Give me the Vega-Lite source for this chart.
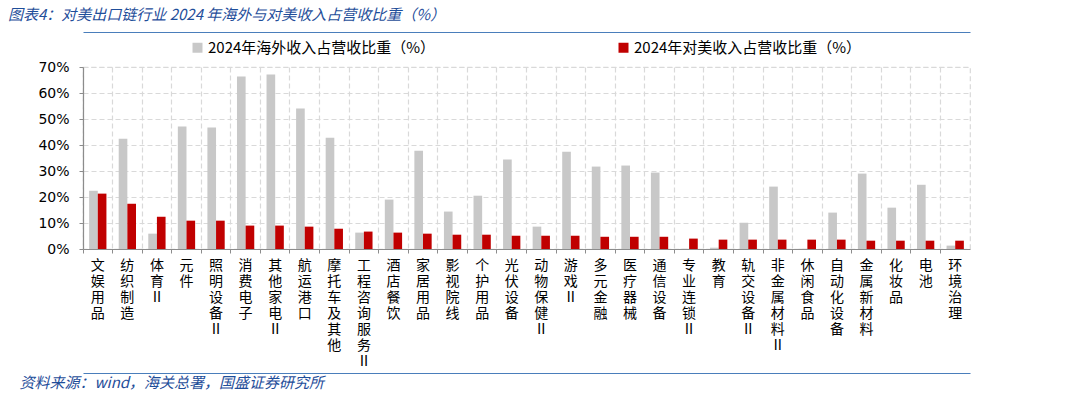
{
  "$schema": "https://vega.github.io/schema/vega-lite/v6.json",
  "autosize": "none",
  "width": 887,
  "height": 182,
  "padding": {"left": 83, "top": 67, "right": 95, "bottom": 147},
  "background": "white",
  "view": {"stroke": "#D9D9D9", "strokeDash": [5, 3], "strokeWidth": 1.2},
  "title": {
    "text": "图表4：对美出口链行业 2024 年海外与对美收入占营收比重（%）",
    "anchor": "start",
    "frame": "group",
    "dx": -75,
    "offset": 9,
    "font": "Noto Sans CJK SC",
    "fontSize": 15,
    "fontStyle": "italic",
    "fontWeight": "normal",
    "color": "#1F4E9A"
  },
  "data": {
    "values": [
      {"行业": "文娱用品", "系列": "2024年海外收入占营收比重（%）", "值": 22.4},
      {"行业": "文娱用品", "系列": "2024年对美收入占营收比重（%）", "值": 21.3},
      {"行业": "纺织制造", "系列": "2024年海外收入占营收比重（%）", "值": 42.4},
      {"行业": "纺织制造", "系列": "2024年对美收入占营收比重（%）", "值": 17.4},
      {"行业": "体育Ⅱ", "系列": "2024年海外收入占营收比重（%）", "值": 5.9},
      {"行业": "体育Ⅱ", "系列": "2024年对美收入占营收比重（%）", "值": 12.4},
      {"行业": "元件", "系列": "2024年海外收入占营收比重（%）", "值": 47.1},
      {"行业": "元件", "系列": "2024年对美收入占营收比重（%）", "值": 10.9},
      {"行业": "照明设备Ⅱ", "系列": "2024年海外收入占营收比重（%）", "值": 46.7},
      {"行业": "照明设备Ⅱ", "系列": "2024年对美收入占营收比重（%）", "值": 10.9},
      {"行业": "消费电子", "系列": "2024年海外收入占营收比重（%）", "值": 66.3},
      {"行业": "消费电子", "系列": "2024年对美收入占营收比重（%）", "值": 9.0},
      {"行业": "其他家电Ⅱ", "系列": "2024年海外收入占营收比重（%）", "值": 67.1},
      {"行业": "其他家电Ⅱ", "系列": "2024年对美收入占营收比重（%）", "值": 9.0},
      {"行业": "航运港口", "系列": "2024年海外收入占营收比重（%）", "值": 54.0},
      {"行业": "航运港口", "系列": "2024年对美收入占营收比重（%）", "值": 8.6},
      {"行业": "摩托车及其他", "系列": "2024年海外收入占营收比重（%）", "值": 42.8},
      {"行业": "摩托车及其他", "系列": "2024年对美收入占营收比重（%）", "值": 7.8},
      {"行业": "工程咨询服务Ⅱ", "系列": "2024年海外收入占营收比重（%）", "值": 6.3},
      {"行业": "工程咨询服务Ⅱ", "系列": "2024年对美收入占营收比重（%）", "值": 6.7},
      {"行业": "酒店餐饮", "系列": "2024年海外收入占营收比重（%）", "值": 19.0},
      {"行业": "酒店餐饮", "系列": "2024年对美收入占营收比重（%）", "值": 6.3},
      {"行业": "家居用品", "系列": "2024年海外收入占营收比重（%）", "值": 37.8},
      {"行业": "家居用品", "系列": "2024年对美收入占营收比重（%）", "值": 5.9},
      {"行业": "影视院线", "系列": "2024年海外收入占营收比重（%）", "值": 14.4},
      {"行业": "影视院线", "系列": "2024年对美收入占营收比重（%）", "值": 5.5},
      {"行业": "个护用品", "系列": "2024年海外收入占营收比重（%）", "值": 20.5},
      {"行业": "个护用品", "系列": "2024年对美收入占营收比重（%）", "值": 5.5},
      {"行业": "光伏设备", "系列": "2024年海外收入占营收比重（%）", "值": 34.4},
      {"行业": "光伏设备", "系列": "2024年对美收入占营收比重（%）", "值": 5.1},
      {"行业": "动物保健Ⅱ", "系列": "2024年海外收入占营收比重（%）", "值": 8.6},
      {"行业": "动物保健Ⅱ", "系列": "2024年对美收入占营收比重（%）", "值": 5.1},
      {"行业": "游戏Ⅱ", "系列": "2024年海外收入占营收比重（%）", "值": 37.4},
      {"行业": "游戏Ⅱ", "系列": "2024年对美收入占营收比重（%）", "值": 5.1},
      {"行业": "多元金融", "系列": "2024年海外收入占营收比重（%）", "值": 31.7},
      {"行业": "多元金融", "系列": "2024年对美收入占营收比重（%）", "值": 4.7},
      {"行业": "医疗器械", "系列": "2024年海外收入占营收比重（%）", "值": 32.1},
      {"行业": "医疗器械", "系列": "2024年对美收入占营收比重（%）", "值": 4.7},
      {"行业": "通信设备", "系列": "2024年海外收入占营收比重（%）", "值": 29.4},
      {"行业": "通信设备", "系列": "2024年对美收入占营收比重（%）", "值": 4.7},
      {"行业": "专业连锁Ⅱ", "系列": "2024年海外收入占营收比重（%）", "值": 0.1},
      {"行业": "专业连锁Ⅱ", "系列": "2024年对美收入占营收比重（%）", "值": 4.0},
      {"行业": "教育", "系列": "2024年海外收入占营收比重（%）", "值": 0.5},
      {"行业": "教育", "系列": "2024年对美收入占营收比重（%）", "值": 3.6},
      {"行业": "轨交设备Ⅱ", "系列": "2024年海外收入占营收比重（%）", "值": 10.1},
      {"行业": "轨交设备Ⅱ", "系列": "2024年对美收入占营收比重（%）", "值": 3.6},
      {"行业": "非金属材料Ⅱ", "系列": "2024年海外收入占营收比重（%）", "值": 24.0},
      {"行业": "非金属材料Ⅱ", "系列": "2024年对美收入占营收比重（%）", "值": 3.6},
      {"行业": "休闲食品", "系列": "2024年海外收入占营收比重（%）", "值": 0.1},
      {"行业": "休闲食品", "系列": "2024年对美收入占营收比重（%）", "值": 3.6},
      {"行业": "自动化设备", "系列": "2024年海外收入占营收比重（%）", "值": 14.0},
      {"行业": "自动化设备", "系列": "2024年对美收入占营收比重（%）", "值": 3.6},
      {"行业": "金属新材料", "系列": "2024年海外收入占营收比重（%）", "值": 29.0},
      {"行业": "金属新材料", "系列": "2024年对美收入占营收比重（%）", "值": 3.2},
      {"行业": "化妆品", "系列": "2024年海外收入占营收比重（%）", "值": 15.9},
      {"行业": "化妆品", "系列": "2024年对美收入占营收比重（%）", "值": 3.2},
      {"行业": "电池", "系列": "2024年海外收入占营收比重（%）", "值": 24.7},
      {"行业": "电池", "系列": "2024年对美收入占营收比重（%）", "值": 3.2},
      {"行业": "环境治理", "系列": "2024年海外收入占营收比重（%）", "值": 1.3},
      {"行业": "环境治理", "系列": "2024年对美收入占营收比重（%）", "值": 3.2}
    ]
  },
  "resolve": {"axis": {"x": "independent"}},
  "layer": [
    {
      "mark": {"type": "bar"},
      "encoding": {
        "x": {
          "field": "行业",
          "type": "nominal",
          "sort": null,
          "scale": {"paddingInner": 0, "paddingOuter": 0},
          "axis": {
            "title": "资料来源：wind，海关总署，国盛证券研究所",
            "titleFont": "Noto Sans CJK SC",
            "titleFontSize": 15,
            "titleFontStyle": "italic",
            "titleFontWeight": "normal",
            "titleColor": "#1F4E9A",
            "titleAnchor": "start",
            "titleAlign": "left",
            "titleBaseline": "middle",
            "titleX": -64,
            "titleY": 133,
            "labelAngle": 0,
            "labelExpr": "split(datum.label, '')",
            "labelFont": "Noto Sans CJK SC",
            "labelFontSize": 14,
            "labelLineHeight": 16,
            "labelColor": "#000000",
            "labelPadding": 5,
            "labelBaseline": "top",
            "bandPosition": 0,
            "grid": true,
            "gridColor": "#D9D9D9",
            "gridDash": [5, 3],
            "gridWidth": 1.2,
            "domainColor": "#8C8C8C",
            "domainWidth": 1.2,
            "tickColor": "#8C8C8C",
            "tickSize": 4,
            "labelBound": false,
            "labelOverlap": false
          }
        },
        "xOffset": {
          "field": "系列",
          "type": "nominal",
          "sort": ["2024年海外收入占营收比重（%）", "2024年对美收入占营收比重（%）"],
          "scale": {"paddingInner": 0, "paddingOuter": 0.71}
        },
        "y": {
          "field": "值",
          "type": "quantitative",
          "scale": {"domain": [0, 70], "nice": false},
          "axis": {
            "title": null,
            "values": [0, 10, 20, 30, 40, 50, 60, 70],
            "labelExpr": "datum.value + '%'",
            "labelFont": "DejaVu Sans",
            "labelFontSize": 14,
            "labelColor": "#000000",
            "labelPadding": 10,
            "grid": true,
            "gridColor": "#D9D9D9",
            "gridDash": [5, 3],
            "gridWidth": 1.2,
            "domainColor": "#8C8C8C",
            "domainWidth": 1.2,
            "ticks": true,
            "tickColor": "#8C8C8C",
            "tickSize": 4
          }
        },
        "color": {
          "field": "系列",
          "type": "nominal",
          "sort": ["2024年海外收入占营收比重（%）", "2024年对美收入占营收比重（%）"],
          "scale": {
            "domain": ["2024年海外收入占营收比重（%）", "2024年对美收入占营收比重（%）"],
            "range": ["#C8C8C8", "#C00000"]
          },
          "legend": {
            "title": null,
            "orient": "none",
            "direction": "horizontal",
            "legendX": 107,
            "legendY": -27,
            "symbolType": "square",
            "symbolSize": 100,
            "symbolStrokeWidth": 0,
            "labelFont": "Noto Sans CJK SC",
            "labelFontSize": 15,
            "labelColor": "#000000",
            "labelLimit": 400,
            "labelOffset": 3,
            "columnPadding": 180
          }
        }
      }
    },
    {
      "mark": {"type": "bar", "opacity": 0},
      "encoding": {
        "x": {
          "field": "行业",
          "type": "nominal",
          "sort": null,
          "axis": {
            "orient": "top",
            "offset": 35,
            "title": null,
            "labels": false,
            "ticks": false,
            "grid": false,
            "domainColor": "#4A7EBB",
            "domainWidth": 1.2
          }
        }
      }
    },
    {
      "mark": {"type": "bar", "opacity": 0},
      "encoding": {
        "x": {
          "field": "行业",
          "type": "nominal",
          "sort": null,
          "axis": {
            "orient": "bottom",
            "offset": 124,
            "title": null,
            "labels": false,
            "ticks": false,
            "grid": false,
            "domainColor": "#4A7EBB",
            "domainWidth": 1.2
          }
        }
      }
    }
  ]
}
